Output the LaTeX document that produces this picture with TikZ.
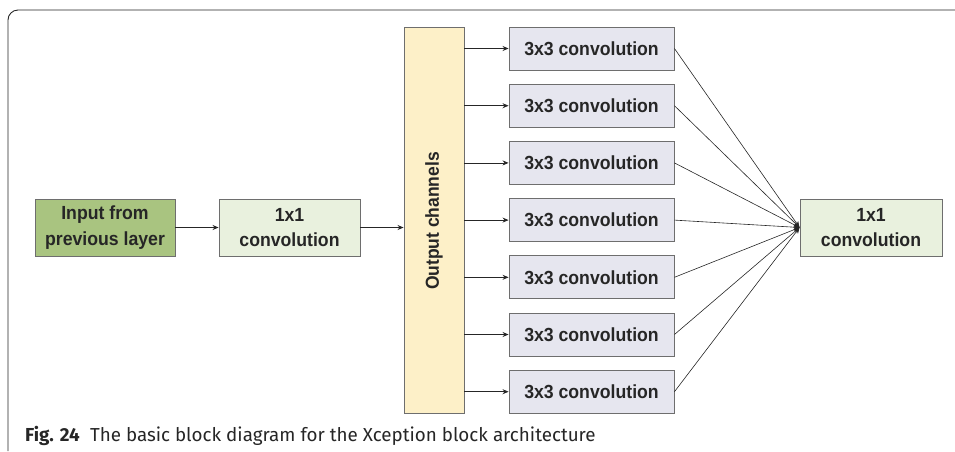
\documentclass[tikz,border=0pt]{standalone}
\usepackage{fontspec}
\setmainfont{Liberation Sans}
\newfontfamily\boxfont[FakeStretch=0.93]{Liberation Sans}
\newfontfamily\capfont{Fira Sans}
\usetikzlibrary{arrows.meta}
\definecolor{inpgreen}{RGB}{169,196,128}
\definecolor{lightgreen}{RGB}{233,241,222}
\definecolor{outyellow}{RGB}{253,240,200}
\definecolor{convgray}{RGB}{230,230,239}
\definecolor{bordergray}{RGB}{110,110,110}
\tikzset{
  blk/.style={draw=bordergray, line width=0.9pt, inner sep=0pt, align=center,
    font=\boxfont\bfseries\fontsize{19}{25.5}\selectfont, text=black!85},
  arr/.style={-{Stealth[length=6pt,width=5pt]}, line width=0.8pt, draw=black!85},
  fan/.style={-{Stealth[length=6pt,width=5pt]}, line width=0.6pt, draw=black!85},
}
\begin{document}
\begin{tikzpicture}[x=1pt,y=-1pt]
\useasboundingbox (0,0) rectangle (955,451);
% frame
\draw[line width=0.9pt, black!85, rounded corners=10pt] (955,10) -- (8,10) -- (8,451);
% nodes
\node[blk, fill=inpgreen, minimum width=140pt, minimum height=57pt] (inp) at (105,227.5) {Input from\\previous layer};
\node[blk, fill=lightgreen, minimum width=141pt, minimum height=57pt] (c1) at (289.5,227.5) {1x1\\convolution};
\node[blk, fill=outyellow, minimum width=60pt, minimum height=386pt] (oc) at (434,220) {};
\node[font=\boxfont\bfseries\fontsize{18.8}{20}\selectfont, text=black!85, rotate=90] (oct) at (434,221) {Output channels};
\foreach \i in {1,...,7} {
  \pgfmathsetmacro{\yc}{48.5+57.2*(\i-1)}
  \node[blk, fill=convgray, minimum width=165pt, minimum height=43pt] (k\i) at (591.5,\yc) {3x3 convolution};
}
\node[blk, fill=lightgreen, minimum width=142pt, minimum height=57pt] (c2) at (871,227.5) {1x1\\convolution};
\coordinate (join) at (c2.west);
% connectors
\draw[arr] (inp.east) -- (c1.west);
\draw[arr] (c1.east) -- (c1.east -| oc.west);
\foreach \i in {1,...,7} {
  \draw[arr] (k\i.west -| oc.east) -- (k\i.west);
  \draw[fan] (k\i.east) -- (join);
}
% caption
\node[anchor=base west, inner sep=0pt, font=\capfont\fontsize{18.8}{21}\selectfont, text=black!85] (cap) at (25,441)
  {\textbf{Fig. 24}\hspace{0.55em}The basic block diagram for the Xception block architecture};
\end{tikzpicture}
\end{document}
